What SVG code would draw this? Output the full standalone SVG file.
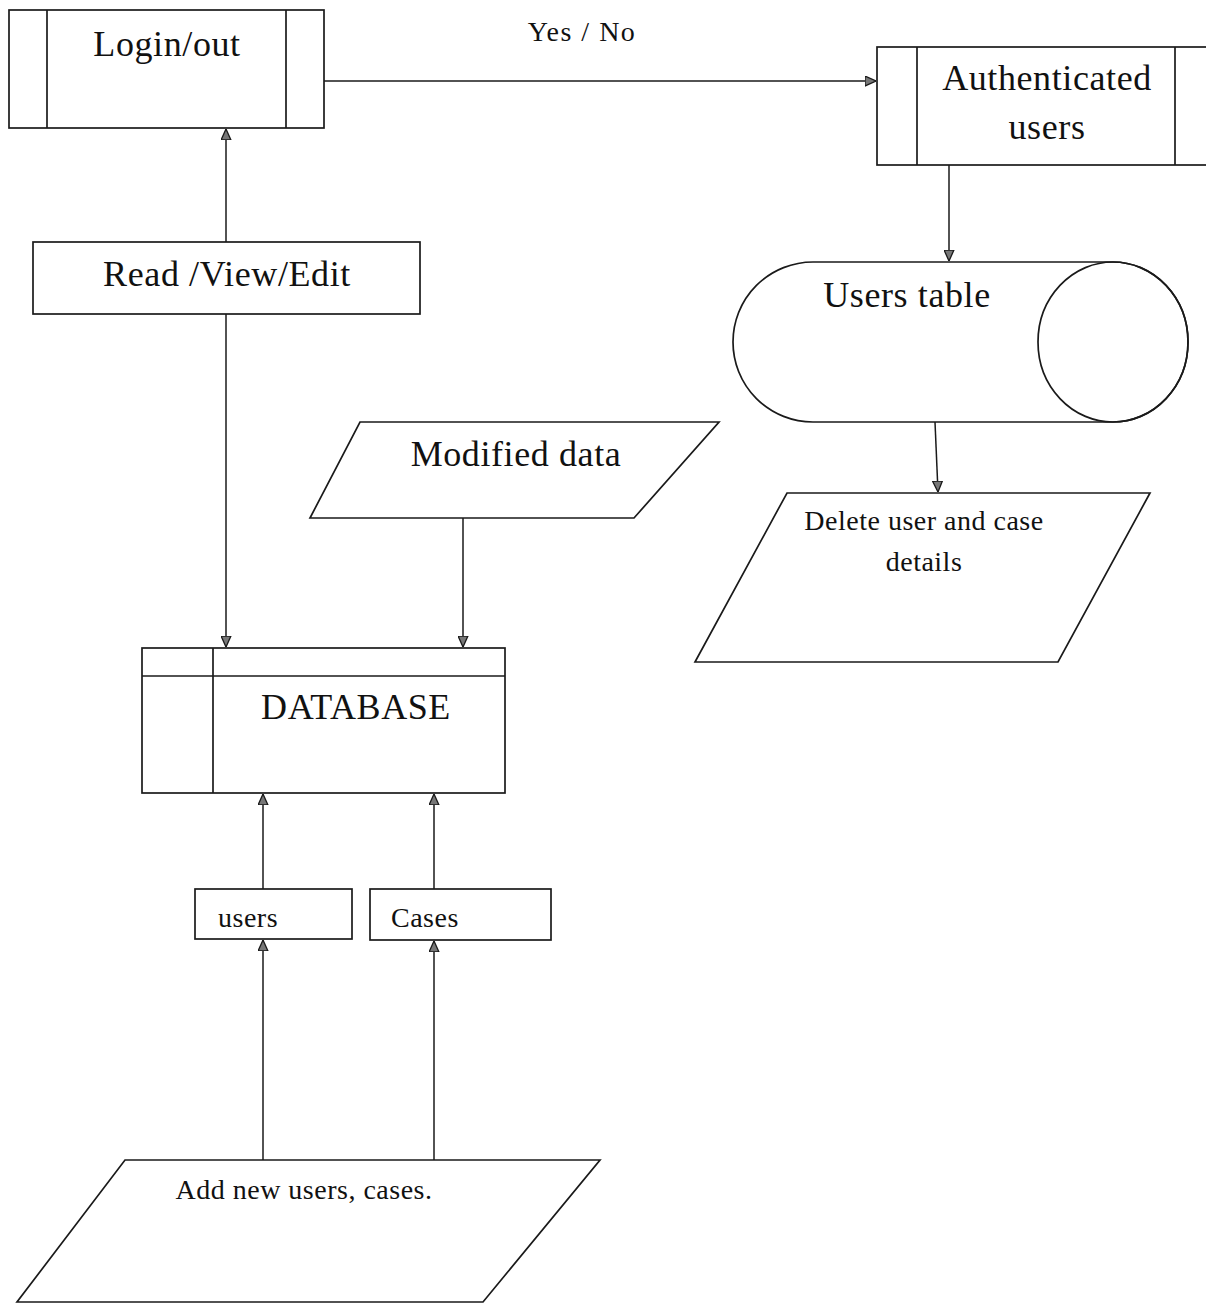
<svg xmlns="http://www.w3.org/2000/svg" width="1206" height="1304" viewBox="0 0 1206 1304">
  <style>
    .shape { fill: #ffffff; stroke: #1a1a1a; stroke-width: 1.7; }
    .rule { fill: none; stroke: #1a1a1a; stroke-width: 1.7; }
    .conn { fill: none; stroke: #1a1a1a; stroke-width: 1.5; }
    .big { font-family: "Liberation Serif", "Times New Roman", serif; font-size: 36px; letter-spacing: 0.6px; fill: #111; }
    .small { font-family: "Liberation Serif", "Times New Roman", serif; font-size: 28px; letter-spacing: 0.5px; fill: #111; }
  </style>
  <defs>
    <marker id="arrow" viewBox="0 0 10 10" refX="10" refY="5" markerWidth="11" markerHeight="11" markerUnits="userSpaceOnUse" orient="auto">
      <path d="M0,0.5 L10,5 L0,9.5 Z" fill="#777" stroke="#1a1a1a" stroke-width="1.2"/>
    </marker>
  </defs>
  <rect width="1206" height="1304" fill="#ffffff"/>

  <!-- connectors -->
  <g id="connectors">
    <line class="conn" x1="324" y1="81" x2="876" y2="81" marker-end="url(#arrow)"/>
    <text class="small" x="582" y="41" text-anchor="middle" style="letter-spacing:1.5px">Yes / No</text>
    <line class="conn" x1="226" y1="242" x2="226" y2="129" marker-end="url(#arrow)"/>
    <line class="conn" x1="226" y1="314" x2="226" y2="647" marker-end="url(#arrow)"/>
    <line class="conn" x1="463" y1="518" x2="463" y2="647" marker-end="url(#arrow)"/>
    <line class="conn" x1="949" y1="165" x2="949" y2="261" marker-end="url(#arrow)"/>
    <line class="conn" x1="935" y1="422" x2="938" y2="492" marker-end="url(#arrow)"/>
    <line class="conn" x1="263" y1="889" x2="263" y2="794" marker-end="url(#arrow)"/>
    <line class="conn" x1="434" y1="889" x2="434" y2="794" marker-end="url(#arrow)"/>
    <line class="conn" x1="263" y1="1160" x2="263" y2="940" marker-end="url(#arrow)"/>
    <line class="conn" x1="434" y1="1160" x2="434" y2="941" marker-end="url(#arrow)"/>
  </g>

  <!-- predefined process: Login/out -->
  <g id="login">
    <rect class="shape" x="9" y="10" width="315" height="118"/>
    <line class="rule" x1="47" y1="10" x2="47" y2="128"/>
    <line class="rule" x1="286" y1="10" x2="286" y2="128"/>
    <text class="big" x="167" y="56" text-anchor="middle">Login/out</text>
  </g>

  <!-- predefined process: Authenticated users (runs past the right edge) -->
  <g id="authenticated">
    <rect class="shape" x="877" y="47" width="340" height="118"/>
    <line class="rule" x1="917" y1="47" x2="917" y2="165"/>
    <line class="rule" x1="1175" y1="47" x2="1175" y2="165"/>
    <text class="big" x="1047" y="90" text-anchor="middle">Authenticated</text>
    <text class="big" x="1047" y="139" text-anchor="middle">users</text>
  </g>

  <!-- process: Read /View/Edit -->
  <g id="read-view-edit">
    <rect class="shape" x="33" y="242" width="387" height="72"/>
    <text class="big" x="227" y="286" text-anchor="middle">Read /View/Edit</text>
  </g>

  <!-- stored data: Users table -->
  <g id="users-table">
    <path class="shape" d="M813,262 L1113,262 A75,80 0 0 1 1113,422 L813,422 A80,80 0 0 1 813,262 Z"/>
    <ellipse class="rule" cx="1113" cy="342" rx="75" ry="80"/>
    <text class="big" x="907" y="307" text-anchor="middle">Users table</text>
  </g>

  <!-- data: Modified data -->
  <g id="modified-data">
    <polygon class="shape" points="360,422 719,422 634,518 310,518"/>
    <text class="big" x="516" y="466" text-anchor="middle">Modified data</text>
  </g>

  <!-- data: Delete user and case details -->
  <g id="delete-details">
    <polygon class="shape" points="787,493 1150,493 1058,662 695,662"/>
    <text class="small" x="924" y="530" text-anchor="middle">Delete user and case</text>
    <text class="small" x="924" y="571" text-anchor="middle">details</text>
  </g>

  <!-- internal storage: DATABASE -->
  <g id="database">
    <rect class="shape" x="142" y="648" width="363" height="145"/>
    <line class="rule" x1="142" y1="676" x2="505" y2="676"/>
    <line class="rule" x1="213" y1="648" x2="213" y2="793"/>
    <text class="big" x="356" y="719" text-anchor="middle">DATABASE</text>
  </g>

  <!-- process: users -->
  <g id="users">
    <rect class="shape" x="195" y="889" width="157" height="50"/>
    <text class="small" x="218" y="927">users</text>
  </g>

  <!-- process: Cases -->
  <g id="cases">
    <rect class="shape" x="370" y="889" width="181" height="51"/>
    <text class="small" x="391" y="927">Cases</text>
  </g>

  <!-- data: Add new users, cases. -->
  <g id="add-new">
    <polygon class="shape" points="125,1160 600,1160 483,1302 17,1302"/>
    <text class="small" x="304" y="1199" text-anchor="middle">Add new users, cases.</text>
  </g>
</svg>
